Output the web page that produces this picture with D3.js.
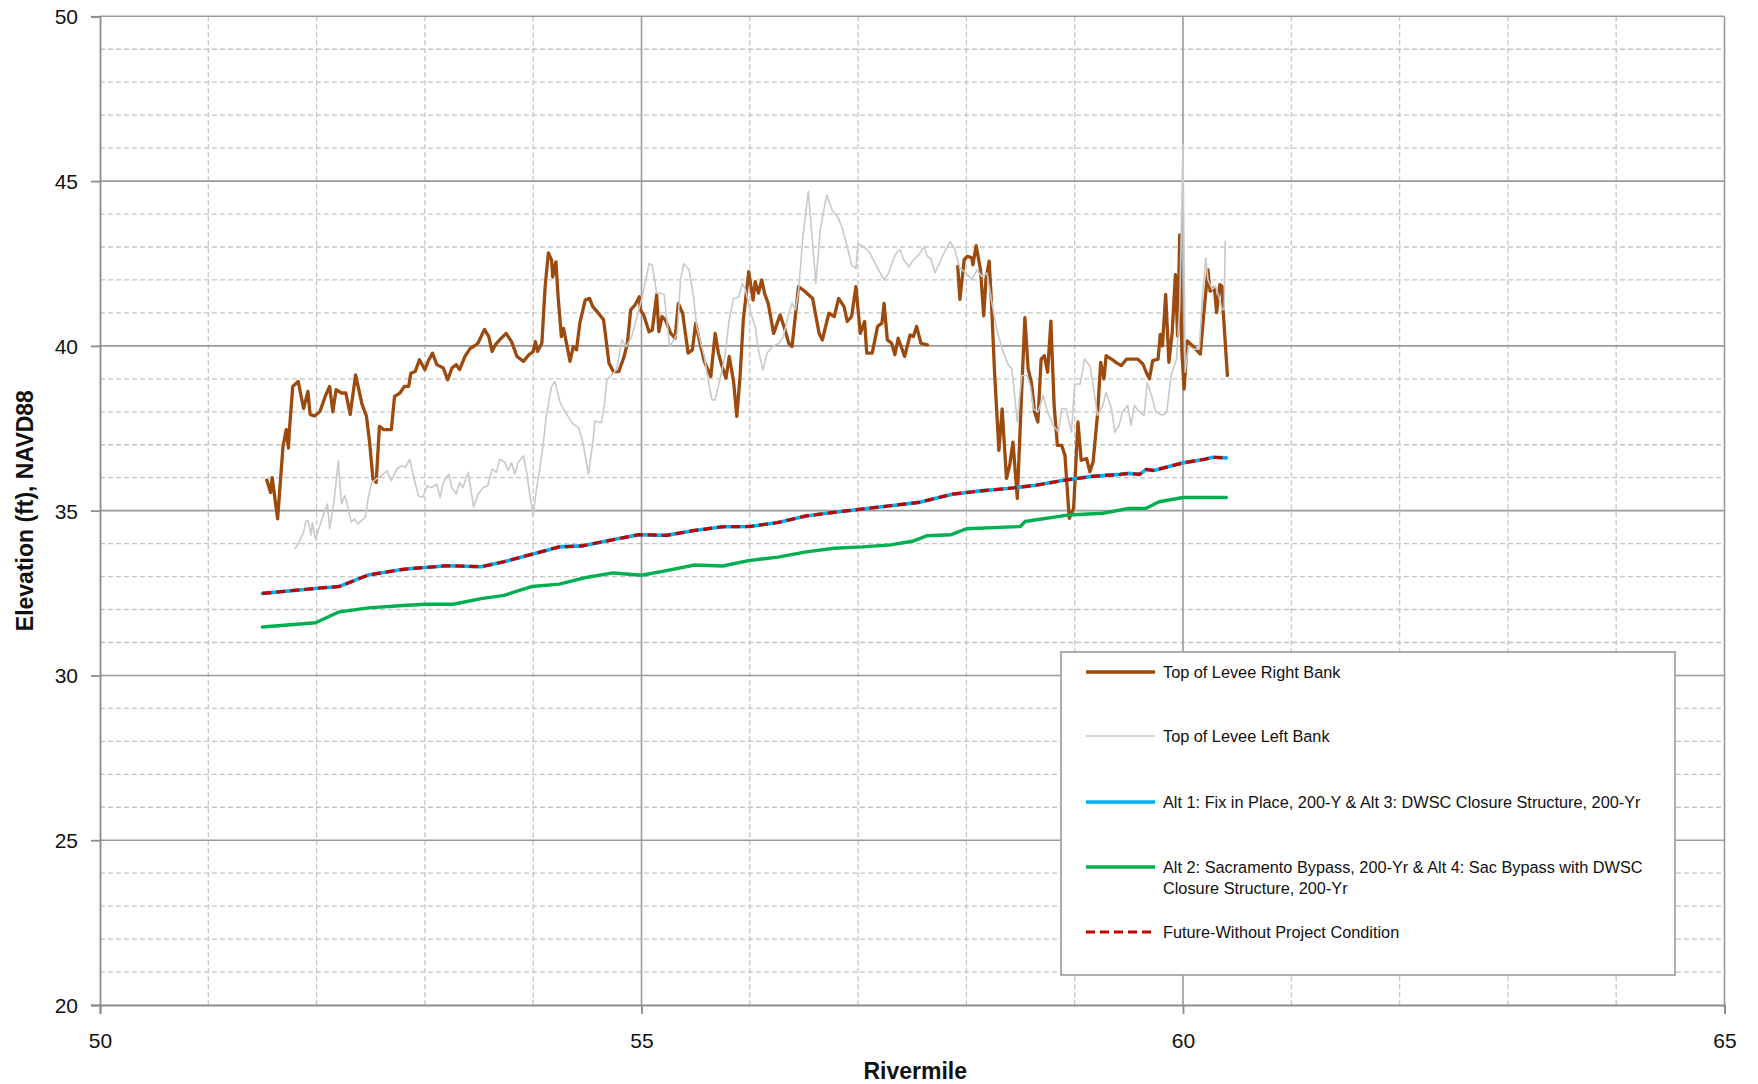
<!DOCTYPE html>
<html>
<head>
<meta charset="utf-8">
<script src="https://cdn.jsdelivr.net/npm/d3@7/dist/d3.min.js"></script>
<style>
  html, body { margin: 0; padding: 0; background: #fff; }
  svg { display: block; font-family: "Liberation Sans", Arial, sans-serif; }
</style>
</head>
<body>
<svg id="chart" width="1758" height="1084"></svg>
<script>
// ---------------- DATA ----------------
const xTicks = [50, 55, 60, 65];
const yTicks = [20, 25, 30, 35, 40, 45, 50];

// Top of Levee Right Bank (null = gap)
const rightBankMile = [
  51.54,51.575,51.59,51.64,51.69,51.72,51.74,51.75,51.78,51.83,51.88,51.92,51.94,51.98,52.03,52.08,52.12,52.15,52.18,52.23,
  52.27,52.31,52.36,52.42,52.46,52.49,52.52,52.55,52.58,52.62,52.69,52.72,52.77,52.81,52.85,52.87,52.91,52.95,53.0,53.03,
  53.07,53.11,53.17,53.21,53.25,53.29,53.32,53.37,53.42,53.45,53.49,53.55,53.59,53.62,53.65,53.69,53.75,53.8,53.85,53.91,
  53.96,54.0,54.02,54.04,54.08,54.11,54.14,54.17,54.18,54.21,54.23,54.26,54.28,54.34,54.37,54.4,54.43,54.48,54.52,54.55,
  54.6,54.65,54.7,54.74,54.79,54.84,54.87,54.9,54.94,54.98,54.99,55.02,55.07,55.1,55.14,55.16,55.19,55.22,55.27,55.31,
  55.34,55.38,55.43,55.47,55.5,55.54,55.58,55.64,55.68,55.71,55.74,55.78,55.81,55.85,55.88,55.91,55.94,55.99,56.03,56.05,
  56.08,56.11,56.14,56.17,56.22,56.28,56.32,56.36,56.39,56.45,56.51,56.58,56.64,56.67,56.73,56.78,56.82,56.87,56.9,56.94,
  56.98,57.02,57.06,57.08,57.13,57.18,57.22,57.24,57.27,57.31,57.34,57.37,57.43,57.48,57.51,57.54,57.58,57.64,
  57.78,
  57.92,57.94,57.98,58.01,58.05,58.06,58.09,58.13,58.16,58.18,58.21,58.23,58.26,58.3,58.33,58.37,58.4,58.43,58.47,58.51,
  58.54,58.57,58.6,58.63,58.66,58.69,58.72,58.75,58.78,58.81,58.84,58.88,58.91,58.95,58.99,59.03,59.06,59.11,59.14,59.17,
  59.21,59.24,59.27,59.29,59.34,59.38,59.43,59.48,59.58,59.63,59.66,59.69,59.72,59.77,59.79,59.81,59.84,59.87,59.9,59.93,
  59.95,59.97,59.99,60.01,60.04,60.09,60.16,60.19,60.23,60.25,60.29,60.31,60.34,60.36,60.37,60.41
];
const rightBankElev = [
  35.93,35.55,36.0,34.75,36.96,37.46,36.9,37.5,38.77,38.92,38.1,38.62,37.92,37.87,38.0,38.47,38.77,38.0,38.67,38.57,
  38.57,37.92,39.12,38.22,37.87,37.06,35.96,35.86,37.56,37.46,37.46,38.47,38.57,38.77,38.77,39.17,39.22,39.58,39.28,39.53,
  39.78,39.43,39.33,38.97,39.33,39.43,39.28,39.68,39.93,39.98,40.08,40.5,40.28,39.83,40.03,40.18,40.38,40.13,39.68,39.53,
  39.73,39.83,40.13,39.83,40.08,41.79,42.82,42.6,42.09,42.55,41.49,40.28,40.53,39.53,39.98,39.88,40.68,41.39,41.44,41.19,
  41.0,40.79,39.47,39.22,39.22,39.68,40.08,41.09,41.24,41.49,41.09,40.94,40.43,40.48,41.55,40.43,40.89,40.79,40.38,40.23,
  41.29,40.99,39.78,39.88,40.69,40.08,39.53,39.07,40.38,39.78,39.42,39.02,39.68,38.92,37.86,39.07,40.79,42.25,41.39,41.95,
  41.6,42.0,41.55,41.29,40.38,40.94,40.54,40.08,39.98,41.8,41.65,41.44,40.38,40.18,40.99,40.89,41.44,41.19,40.74,40.89,
  41.8,40.38,40.74,39.78,39.78,40.59,40.69,41.29,40.18,40.08,39.73,40.23,39.68,40.33,40.28,40.59,40.08,40.03,
  null,
  42.41,41.41,42.62,42.72,42.67,42.46,43.04,42.31,40.91,42.01,42.57,41.41,39.2,36.83,38.09,35.98,36.38,37.08,35.37,38.59,
  40.86,39.3,38.89,37.99,37.69,39.6,39.7,39.2,40.75,38.19,36.98,36.98,36.68,34.77,35.07,37.69,36.53,36.58,36.18,36.48,
  37.89,39.5,39.0,39.7,39.6,39.5,39.4,39.6,39.6,39.45,39.2,39.0,39.55,39.6,40.35,40.0,41.56,39.5,40.4,42.16,
  40.3,43.37,39.8,38.69,40.15,40.0,39.75,40.91,42.31,41.66,41.76,41.01,41.86,41.81,41.11,39.1
];

// Top of Levee Left Bank
const leftBankMile = [
  51.80,51.83,51.88,51.9,51.92,51.95,51.96,51.99,52.03,52.07,52.1,52.12,52.16,52.2,52.23,52.26,52.29,52.32,52.35,52.38,
  52.45,52.48,52.51,52.55,52.6,52.65,52.69,52.74,52.78,52.82,52.86,52.89,52.94,52.98,53.02,53.06,53.11,53.14,53.17,53.22,
  53.25,53.29,53.32,53.35,53.4,53.45,53.49,53.54,53.58,53.62,53.66,53.69,53.74,53.77,53.8,53.83,53.86,53.91,53.94,53.97,
  54.0,54.03,54.06,54.09,54.12,54.17,54.2,54.25,54.29,54.34,54.37,54.42,54.46,54.51,54.55,54.57,54.63,54.66,54.68,54.71,
  54.77,54.82,54.86,54.91,54.95,55.0,55.04,55.07,55.1,55.14,55.18,55.21,55.24,55.26,55.3,55.33,55.36,55.39,55.44,55.48,
  55.51,55.54,55.58,55.61,55.65,55.68,55.73,55.77,55.81,55.85,55.9,55.93,55.96,56.01,56.05,56.08,56.12,56.16,56.21,56.27,
  56.31,56.36,56.39,56.42,56.45,56.49,56.54,56.58,56.61,56.65,56.71,56.76,56.81,56.85,56.9,56.94,56.98,57.0,57.05,57.1,
  57.14,57.19,57.24,57.28,57.33,57.36,57.39,57.42,57.47,57.51,57.56,57.61,57.64,57.67,57.71,57.75,57.8,57.85,57.89,57.94,
  58.0,58.05,58.1,58.14,58.19,58.23,58.28,58.33,58.39,58.42,58.47,58.51,58.56,58.59,58.62,58.66,58.71,58.75,58.8,58.85,
  58.88,58.92,58.97,59.0,59.05,59.09,59.14,59.18,59.21,59.26,59.29,59.34,59.37,59.41,59.44,59.49,59.52,59.55,59.6,59.64,
  59.67,59.71,59.75,59.81,59.85,59.89,59.94,59.97,60.0,60.02,60.05,60.1,60.15,60.18,60.21,60.23,60.27,60.3,60.33,60.36,
  60.38,60.39
];
const leftBankElev = [
  33.85,33.99,34.35,34.67,34.7,34.26,34.65,34.14,34.55,34.95,35.2,34.45,35.25,36.51,35.2,35.45,35.1,34.65,34.75,34.6,
  34.8,35.45,35.86,35.96,36.06,36.21,35.91,36.26,36.36,36.31,36.56,36.11,35.45,35.4,35.75,35.7,35.8,35.4,35.86,36.11,
  35.7,35.5,35.86,35.7,36.16,35.1,35.5,35.7,35.75,36.26,36.16,36.56,36.46,36.21,36.46,36.11,36.46,36.66,36.16,35.45,
  34.85,35.65,36.26,36.96,37.87,38.77,38.92,38.27,38.02,37.77,37.62,37.52,37.06,36.11,37.06,37.72,37.67,38.27,38.97,39.07,
  39.28,40.18,39.98,40.28,40.78,41.39,42.0,42.5,42.45,41.6,41.6,41.55,40.59,39.98,40.18,40.38,42.0,42.5,42.3,41.49,
  40.59,40.18,39.68,39.07,38.36,38.36,39.07,39.68,40.79,41.44,41.49,41.9,41.7,40.99,40.59,39.88,39.27,39.78,39.98,40.08,
  40.28,40.99,41.29,41.09,41.65,43.31,44.68,43.11,41.9,43.52,44.58,44.12,43.92,43.62,43.01,42.45,42.35,43.11,43.01,42.86,
  42.61,42.3,42.0,42.2,42.66,42.86,42.91,42.61,42.4,42.61,42.76,43.01,42.71,42.66,42.22,42.5,42.87,43.16,42.96,42.35,
  42.21,42.01,42.31,42.11,42.21,41.41,40.5,39.9,39.4,39.3,37.69,39.1,39.1,38.79,38.09,37.99,38.49,37.99,37.59,37.38,
  38.09,38.09,37.38,38.84,38.84,39.6,39.4,38.59,37.89,38.19,38.59,38.09,37.38,37.59,37.99,38.19,37.59,38.19,37.99,37.89,
  38.89,38.49,37.99,37.89,37.99,39.1,39.6,41.21,46.1,39.2,40.0,39.9,39.9,41.51,42.67,42.01,41.71,41.81,41.51,41.11,
  41.1,43.17
];

// Alt 1 (Fix in Place) & Alt 3 — coincides with Future-Without Project Condition
const alt1Mile = [51.5,51.99,52.21,52.48,52.8,53.2,53.52,53.73,53.99,54.24,54.45,54.71,54.97,55.23,55.49,55.75,56.0,56.26,56.52,56.78,
  57.04,57.3,57.56,57.87,58.13,58.38,58.64,58.9,59.16,59.42,59.5,59.6,59.66,59.73,60.0,60.2,60.28,60.4];
const alt1Elev = [32.49,32.64,32.7,33.05,33.22,33.33,33.3,33.45,33.68,33.9,33.93,34.1,34.27,34.25,34.4,34.51,34.52,34.64,34.84,34.95,
  35.05,35.15,35.25,35.5,35.6,35.67,35.77,35.92,36.04,36.1,36.13,36.1,36.25,36.22,36.45,36.56,36.62,36.6];

// Alt 2 (Sacramento Bypass) & Alt 4
const alt2Mile = [51.5,51.99,52.21,52.48,52.8,53.0,53.26,53.52,53.73,53.99,54.24,54.5,54.74,55.0,55.23,55.49,55.75,56.0,56.26,56.52,
  56.78,57.04,57.3,57.5,57.64,57.86,58.0,58.5,58.54,58.95,59.26,59.5,59.66,59.78,60.0,60.4];
const alt2Elev = [31.47,31.6,31.93,32.05,32.12,32.16,32.16,32.33,32.43,32.7,32.77,32.98,33.11,33.04,33.18,33.35,33.32,33.49,33.59,33.75,
  33.86,33.9,33.96,34.07,34.24,34.27,34.45,34.52,34.67,34.87,34.92,35.07,35.07,35.27,35.4,35.4];

// Future-Without Project Condition
const fwopMile = alt1Mile.slice();
const fwopElev = alt1Elev.slice();

const legendLabels = [
  ["Top of Levee Right Bank"],
  ["Top of Levee Left Bank"],
  ["Alt 1: Fix in Place, 200-Y  & Alt 3: DWSC Closure Structure, 200-Yr"],
  ["Alt 2: Sacramento Bypass, 200-Yr & Alt 4: Sac Bypass with DWSC", "Closure Structure, 200-Yr"],
  ["Future-Without Project Condition"]
];

// ---------------- CHART ----------------
const svg = d3.select("#chart");
const L = 100, R = 1724.5, T = 16.3, B = 1005;
const x = d3.scaleLinear().domain([50, 65]).range([L, R]);
const y = d3.scaleLinear().domain([20, 50]).range([B, T]);

const minorX = d3.range(51, 65).filter(v => v % 5 !== 0);
const minorY = d3.range(21, 50).filter(v => v % 5 !== 0);

const grid = svg.append("g");
grid.selectAll("line.mx").data(minorX).join("line")
  .attr("x1", d => x(d)).attr("x2", d => x(d)).attr("y1", T).attr("y2", B)
  .attr("stroke", "#c4c4c4").attr("stroke-width", 1.3).attr("stroke-dasharray", "5,3");
grid.selectAll("line.my").data(minorY).join("line")
  .attr("x1", L).attr("x2", R).attr("y1", d => y(d)).attr("y2", d => y(d))
  .attr("stroke", "#c4c4c4").attr("stroke-width", 1.3).attr("stroke-dasharray", "5,3");
grid.selectAll("line.Mx").data(xTicks.slice(1)).join("line")
  .attr("x1", d => x(d)).attr("x2", d => x(d)).attr("y1", T).attr("y2", B)
  .attr("stroke", "#9a9a9a").attr("stroke-width", 1.6);
grid.selectAll("line.My").data(yTicks.slice(1)).join("line")
  .attr("x1", L).attr("x2", R).attr("y1", d => y(d)).attr("y2", d => y(d))
  .attr("stroke", "#9a9a9a").attr("stroke-width", 1.6);

// Axes
const xAxis = svg.append("g").attr("transform", `translate(0,${B})`)
  .call(d3.axisBottom(x).tickValues(xTicks).tickSize(9).tickPadding(19).tickFormat(d3.format("d")));
const yAxis = svg.append("g").attr("transform", `translate(${L},0)`)
  .call(d3.axisLeft(y).tickValues(yTicks).tickSize(9).tickPadding(13).tickFormat(d3.format("d")));
[xAxis, yAxis].forEach(a => {
  a.select(".domain").attr("stroke", "#8c8c8c").attr("stroke-width", 1.8);
  a.selectAll(".tick line").attr("stroke", "#8c8c8c").attr("stroke-width", 1.8);
  a.selectAll(".tick text").attr("font-size", 21).attr("fill", "#111")
    .attr("font-family", "Liberation Sans, Arial, sans-serif");
});
yAxis.selectAll(".tick text").attr("dy", "0.36em");

// Axis titles
svg.append("text").attr("x", (L + R) / 2 + 3).attr("y", 1079)
  .attr("text-anchor", "middle").attr("font-size", 23).attr("font-weight", "bold").attr("fill", "#111")
  .text("Rivermile");
svg.append("text").attr("transform", `translate(33,${(T + B) / 2}) rotate(-90)`)
  .attr("text-anchor", "middle").attr("font-size", 23).attr("font-weight", "bold").attr("fill", "#111")
  .text("Elevation (ft), NAVD88");

// Series
const plot = svg.append("g");
function drawSeries(miles, elevs, stroke, width, dash) {
  const pts = miles.map((m, i) => [m, elevs[i]]);
  const line = d3.line().defined(d => d[1] !== null).x(d => x(d[0])).y(d => y(d[1]));
  const p = plot.append("path").datum(pts).attr("d", line)
    .attr("fill", "none").attr("stroke", stroke).attr("stroke-width", width)
    .attr("stroke-linejoin", "round").attr("stroke-linecap", dash ? "butt" : "round");
  if (dash) p.attr("stroke-dasharray", dash);
}
drawSeries(rightBankMile, rightBankElev, "#9c4a0d", 3.3, null);
drawSeries(leftBankMile, leftBankElev, "#c9c9c9", 1.6, null);
drawSeries(alt1Mile, alt1Elev, "#00b0f0", 3.6, null);
drawSeries(alt2Mile, alt2Elev, "#00b050", 3.4, null);
drawSeries(fwopMile, fwopElev, "#c00000", 3.2, "9,5");

// Legend
const lg = svg.append("g");
lg.append("rect").attr("x", 1061).attr("y", 652).attr("width", 614).attr("height", 323)
  .attr("fill", "#fff").attr("stroke", "#9a9a9a").attr("stroke-width", 1.6);
const legendStyles = [
  { c: "#9c4a0d", w: 3.3, d: null, y: 672 },
  { c: "#c9c9c9", w: 1.6, d: null, y: 736 },
  { c: "#00b0f0", w: 3.6, d: null, y: 802 },
  { c: "#00b050", w: 3.6, d: null, y: 867 },
  { c: "#c00000", w: 3.2, d: "9,5", y: 932 }
];
legendStyles.forEach((s, i) => {
  const ln = lg.append("line").attr("x1", 1086).attr("x2", 1155).attr("y1", s.y).attr("y2", s.y)
    .attr("stroke", s.c).attr("stroke-width", s.w);
  if (s.d) ln.attr("stroke-dasharray", s.d);
  legendLabels[i].forEach((t, j) => {
    lg.append("text").attr("x", 1163).attr("y", s.y + j * 21).attr("dy", "0.35em")
      .attr("font-size", 16.3).attr("fill", "#111").text(t);
  });
});
</script>
</body>
</html>
